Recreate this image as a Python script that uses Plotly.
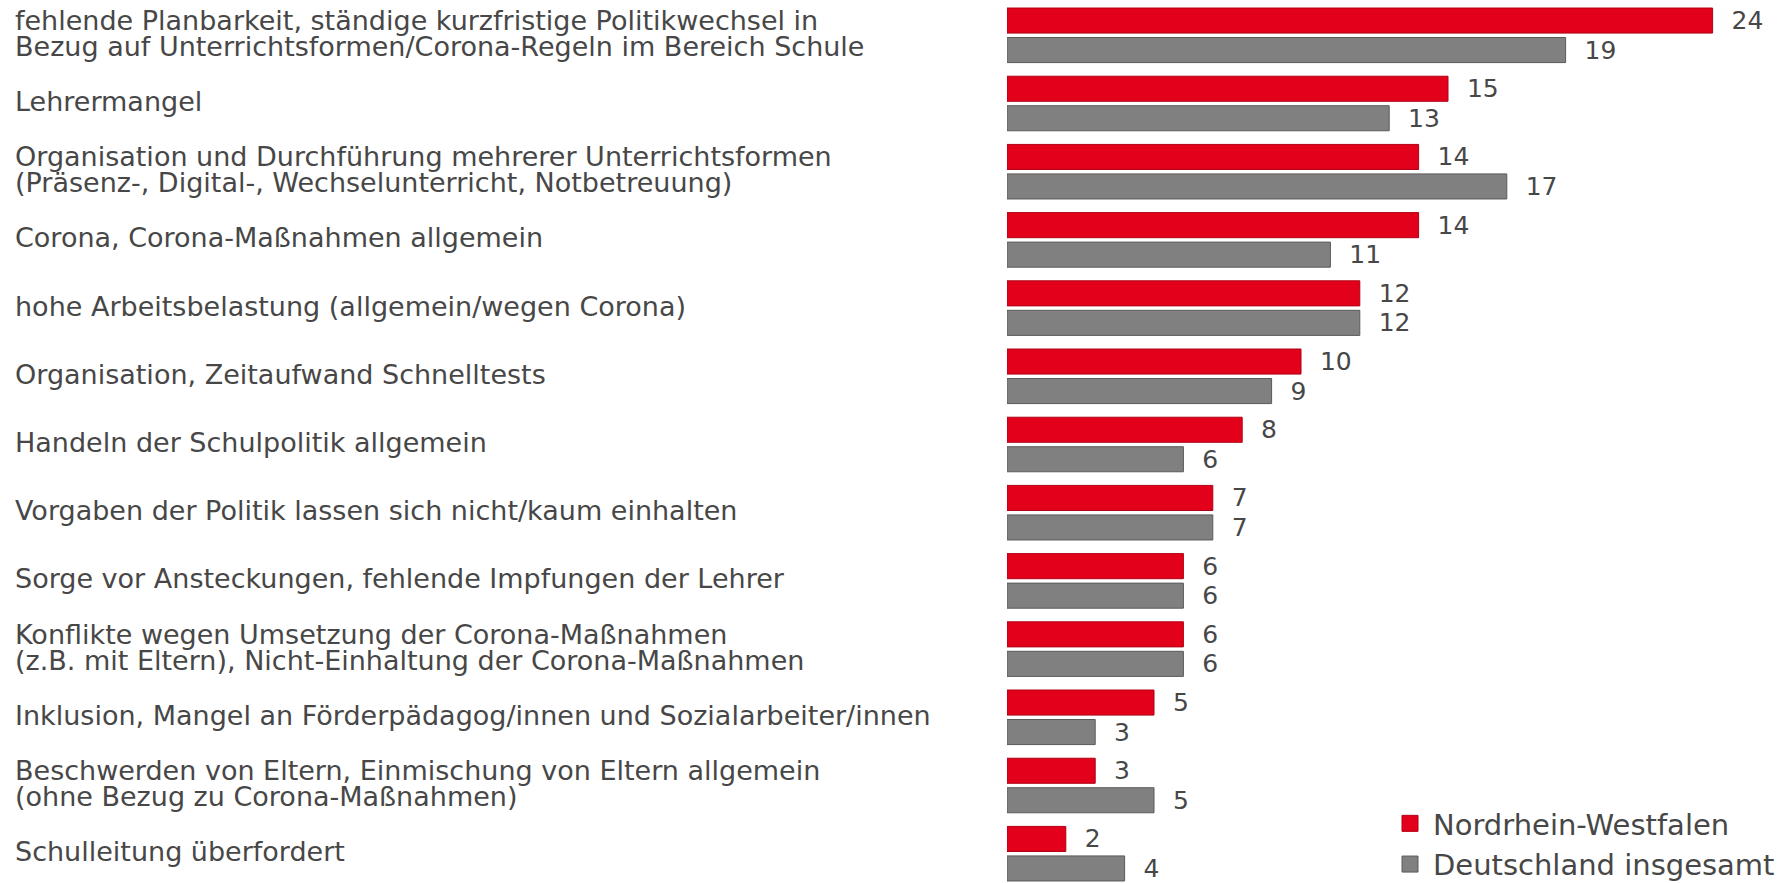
import plotly.graph_objects as go

categories = [
    "fehlende Planbarkeit, ständige kurzfristige Politikwechsel in\nBezug auf Unterrichtsformen/Corona-Regeln im Bereich Schule",
    "Lehrermangel",
    "Organisation und Durchführung mehrerer Unterrichtsformen\n(Präsenz-, Digital-, Wechselunterricht, Notbetreuung)",
    "Corona, Corona-Maßnahmen allgemein",
    "hohe Arbeitsbelastung (allgemein/wegen Corona)",
    "Organisation, Zeitaufwand Schnelltests",
    "Handeln der Schulpolitik allgemein",
    "Vorgaben der Politik lassen sich nicht/kaum einhalten",
    "Sorge vor Ansteckungen, fehlende Impfungen der Lehrer",
    "Konflikte wegen Umsetzung der Corona-Maßnahmen\n(z.B. mit Eltern), Nicht-Einhaltung der Corona-Maßnahmen",
    "Inklusion, Mangel an Förderpädagog/innen und Sozialarbeiter/innen",
    "Beschwerden von Eltern, Einmischung von Eltern allgemein\n(ohne Bezug zu Corona-Maßnahmen)",
    "Schulleitung überfordert",
]
nrw = [24, 15, 14, 14, 12, 10, 8, 7, 6, 6, 5, 3, 2]
deutschland = [19, 13, 17, 11, 12, 9, 6, 7, 6, 6, 3, 5, 4]
series_names = ["Nordrhein-Westfalen", "Deutschland insgesamt"]

RED = "#E2001A"
RED_LINE = "#B00014"
GRAY = "#808080"
GRAY_LINE = "#5A5A5A"
TXT = "#474747"
FONT = "DejaVu Sans"

W, H = 1786, 883
x0_px = 1007
px_per_unit = 29.4
pitch = 68.2
first_center = 35.3

fig = go.Figure()
for i, (vals, name, col, lcol) in enumerate([(nrw, series_names[0], RED, RED_LINE),
                                             (deutschland, series_names[1], GRAY, GRAY_LINE)]):
    fig.add_trace(go.Bar(
        y=categories, x=vals, orientation="h", name=name,
        marker=dict(color=col, line=dict(color=lcol, width=1)),
        text=vals, texttemplate="\u00a0\u00a0%{x}", textposition="outside",
        constraintext="none",
        textfont=dict(family=FONT, size=25, color=TXT),
        cliponaxis=False, showlegend=False, hoverinfo="skip",
    ))
    fig.add_trace(go.Scatter(
        x=[None], y=[None], mode="markers", name=name, legendgroup=f"g{i}",
        marker=dict(symbol="square", size=16, color=col, line=dict(color=lcol, width=1)),
        showlegend=True,
    ))

# left-aligned category labels
line_px = 26
for cat in categories:
    lines = cat.split("\n")
    n = len(lines)
    for k, ln in enumerate(lines):
        shift = ((n - 1) / 2 - k) * line_px + 2
        fig.add_annotation(
            x=13 / W, xref="paper", xanchor="left",
            y=cat, yref="y", yshift=shift, yanchor="middle",
            text=ln, showarrow=False,
            font=dict(family=FONT, size=27, color=TXT),
        )

r0 = -first_center / pitch
r1 = r0 + H / pitch
fig.update_layout(
    width=W, height=H,
    margin=dict(l=0, r=0, t=0, b=0, autoexpand=False),
    paper_bgcolor="white", plot_bgcolor="white",
    barmode="group", bargap=0.135, bargroupgap=0.15,
    xaxis=dict(domain=[x0_px / W, 1], range=[0, (W - x0_px) / px_per_unit],
               visible=False, fixedrange=True),
    yaxis=dict(type="category", range=[r1, r0], visible=False, fixedrange=True),
    legend=dict(x=1387 / W, xanchor="left", y=1 - 798 / H, yanchor="top",
                font=dict(family=FONT, size=29, color=TXT),
                bgcolor="rgba(0,0,0,0)", tracegroupgap=0, itemwidth=36,
                traceorder="grouped"),
    showlegend=True,
)

fig.write_html("out.html")
